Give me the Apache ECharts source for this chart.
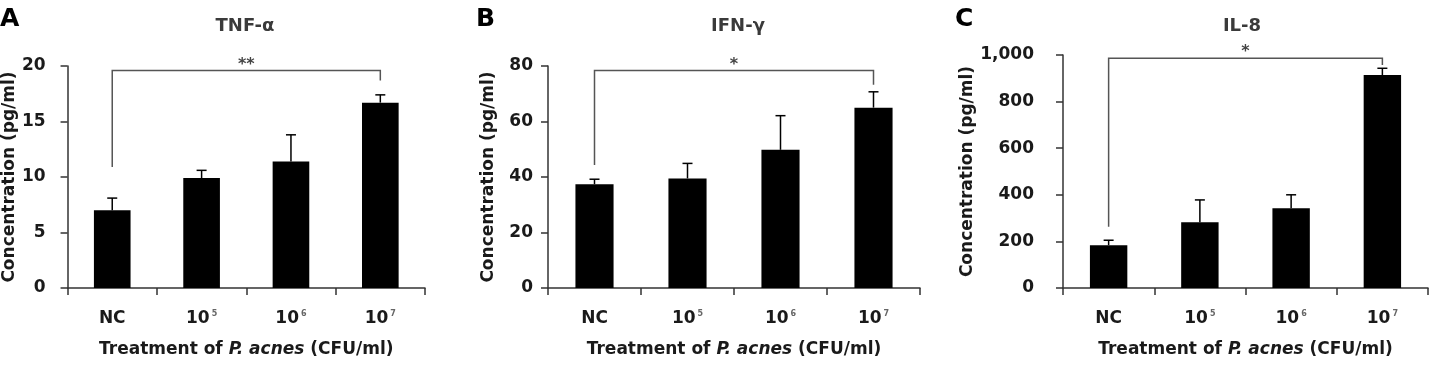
<!DOCTYPE html>
<html>
<head>
<meta charset="utf-8">
<script src="https://cdn.jsdelivr.net/npm/echarts@6/dist/echarts.min.js"></script>
<style>
  html, body { margin: 0; padding: 0; background: #fff; }
  #chart-container { width: 1429px; height: 367px; }
</style>
</head>
<body>
<div id="chart-container"></div>
<script>
// x categories, '^' marks the superscript part
var categories = ['NC', '10^5', '10^6', '10^7'];

var panelTitles = ['TNF-\u03b1', 'IFN-\u03b3', 'IL-8'];
var panelLetters = ['A', 'B', 'C'];

// means and (upper) SD per group
var tnfMean = [7.0, 9.9, 11.4, 16.7];
var tnfSd = [1.1, 0.7, 2.4, 0.7];
var ifnMean = [37.4, 39.5, 49.8, 65.0];
var ifnSd = [1.8, 5.4, 12.3, 5.7];
var il8Mean = [184, 282, 342, 914];
var il8Sd = [21, 96, 58, 29];

// y axis ticks
var yMax = [20, 80, 1000];
var yInterval = [5, 20, 200];

// significance brackets: [top, left leg end, right leg end, stars]
var brackets = [
  [19.6, 10.9, 18.7, '**'],
  [78.4, 44.3, 73.2, '*'],
  [986, 263, 957, '*']
];

var means = [tnfMean, ifnMean, il8Mean];
var sds = [tnfSd, ifnSd, il8Sd];

var FONT = 'DejaVu Sans';

var grids = [
  { left: 65, right: 1004, top: 66, bottom: 79 },
  { left: 548, right: 509, top: 66, bottom: 79 },
  { left: 1063, right: 1, top: 55, bottom: 79 }
];
var labelMargins = [22, 15, 29];
var yNameGaps = [48, 51, 80];

var chart = echarts.init(document.getElementById('chart-container'));

function catLabel(val) {
  var parts = val.split('^');
  if (parts.length === 1) return '{n|' + val + '}';
  return '{n|' + parts[0] + '}{s|' + parts[1] + '}';
}

function renderErr(params, api) {
  var x = api.value(0);
  var p0 = api.coord([x, api.value(1)]);
  var p1 = api.coord([x, api.value(2)]);
  var st = { stroke: '#000', lineWidth: 1.5 };
  return {
    type: 'group',
    children: [
      { type: 'line', shape: { x1: p0[0], y1: p0[1], x2: p1[0], y2: p1[1] }, style: st },
      { type: 'line', shape: { x1: p1[0] - 5, y1: p1[1], x2: p1[0] + 5, y2: p1[1] }, style: st }
    ]
  };
}

function renderBracket(params, api) {
  var top = api.value(0);
  var a = api.coord([0, api.value(1)]);
  var b = api.coord([0, top]);
  var c = api.coord([3, top]);
  var d = api.coord([3, api.value(2)]);
  return {
    type: 'group',
    children: [
      {
        type: 'polyline',
        shape: { points: [a, b, c, d] },
        style: { stroke: '#555', lineWidth: 1.5, fill: null }
      },
      {
        type: 'text',
        x: (b[0] + c[0]) / 2,
        y: b[1] - 6,
        style: {
          text: brackets[params.seriesIndex - 6][3],
          fill: '#444',
          font: 'bold 16px "DejaVu Sans"',
          align: 'center',
          verticalAlign: 'middle'
        }
      }
    ]
  };
}

var xAxes = [], yAxes = [], series = [], titles = [];
var titleX = [245, 738, 1242];
var letterX = [0, 476, 955];

for (var i = 0; i < 3; i++) {
  xAxes.push({
    type: 'category',
    gridIndex: i,
    data: categories,
    axisLine: { lineStyle: { color: '#333', width: 1.5 } },
    axisTick: { show: true, length: 7, lineStyle: { color: '#333', width: 1.5 } },
    axisLabel: {
      margin: 22,
      formatter: catLabel,
      rich: {
        n: { fontFamily: FONT, fontWeight: 'bold', fontSize: 17, color: '#1a1a1a' },
        s: { fontFamily: FONT, fontWeight: 'bold', fontSize: 8, color: '#666', verticalAlign: 'top', padding: [0, 0, 8, 2] }
      }
    },
    name: '{b|Treatment of }{i|P. acnes}{b| (CFU/ml)}',
    nameLocation: 'middle',
    nameGap: 53,
    nameTextStyle: {
      rich: {
        b: { fontFamily: FONT, fontWeight: 'bold', fontSize: 17, color: '#1a1a1a' },
        i: { fontFamily: FONT, fontWeight: 'bold', fontStyle: 'italic', fontSize: 17, color: '#1a1a1a' }
      }
    }
  });
  yAxes.push({
    type: 'value',
    gridIndex: i,
    min: 0,
    max: yMax[i],
    interval: yInterval[i],
    splitLine: { show: false },
    axisLine: { show: true, lineStyle: { color: '#333', width: 1.5 } },
    axisTick: { show: true, length: 7, lineStyle: { color: '#333', width: 1.5 } },
    axisLabel: {
      margin: labelMargins[i],
      fontFamily: FONT,
      fontWeight: 'bold',
      fontSize: 17,
      color: '#1a1a1a',
      formatter: function (v) { return v.toLocaleString('en-US'); }
    },
    name: 'Concentration (pg/ml)',
    nameLocation: 'middle',
    nameRotate: 90,
    nameGap: yNameGaps[i],
    nameTextStyle: { fontFamily: FONT, fontWeight: 'bold', fontSize: 17, color: '#1a1a1a' }
  });
  titles.push({
    text: panelTitles[i],
    left: titleX[i],
    top: 17,
    padding: 0,
    textAlign: 'center',
    textStyle: { fontFamily: FONT, fontWeight: 'bold', fontSize: 18, color: '#3a3a3a' }
  });
  titles.push({
    text: panelLetters[i],
    left: letterX[i],
    top: 7,
    padding: 0,
    textStyle: { fontFamily: FONT, fontWeight: 'bold', fontSize: 25, color: '#000' }
  });
}

for (var i = 0; i < 3; i++) {
  series.push({
    type: 'bar',
    xAxisIndex: i,
    yAxisIndex: i,
    data: means[i],
    barWidth: '41%',
    itemStyle: { color: '#000' },
    silent: true
  });
}
for (var i = 0; i < 3; i++) {
  var errData = means[i].map(function (m, k) { return [k, m, m + sds[i][k]]; });
  series.push({
    type: 'custom',
    xAxisIndex: i,
    yAxisIndex: i,
    renderItem: renderErr,
    data: errData,
    z: 3,
    silent: true
  });
}
for (var i = 0; i < 3; i++) {
  series.push({
    type: 'custom',
    xAxisIndex: i,
    yAxisIndex: i,
    renderItem: renderBracket,
    data: [[brackets[i][0], brackets[i][1], brackets[i][2]]],
    encode: { y: [0, 1, 2] },
    clip: false,
    z: 4,
    silent: true
  });
}

var option = {
  animation: false,
  backgroundColor: '#fff',
  title: titles,
  grid: grids,
  xAxis: xAxes,
  yAxis: yAxes,
  series: series
};
chart.setOption(option);
</script>
</body>
</html>
